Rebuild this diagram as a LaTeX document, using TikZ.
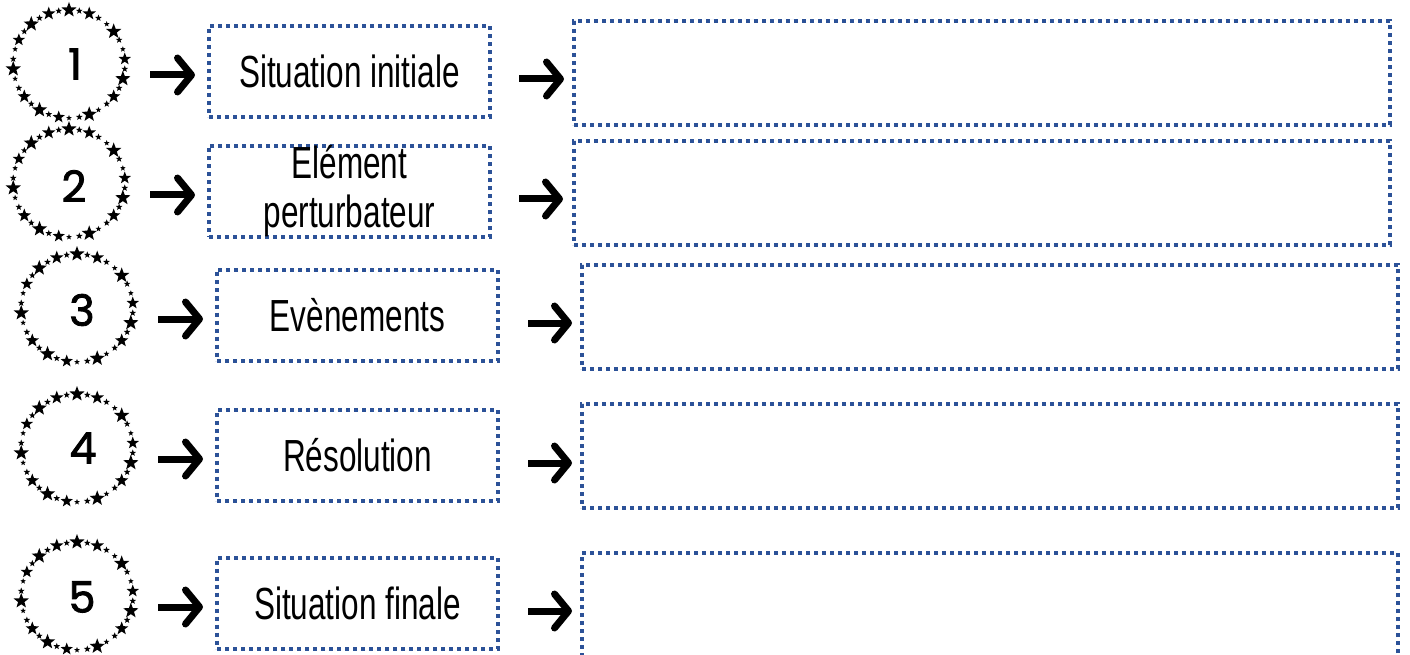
\documentclass[tikz,border=0pt]{standalone}
\usepackage{fontspec}
\setmainfont{Liberation Sans}
\newfontfamily\agency[FakeStretch=0.70]{Liberation Sans}
\newfontfamily\numfont[FakeBold=2]{Poppins}
\usetikzlibrary{shapes.geometric,arrows.meta}
\definecolor{dotblue}{RGB}{44,82,152}
\tikzset{
  dotbox/.style={rectangle, draw=dotblue, line width=4pt, dash pattern=on 4pt off 4pt,
    inner sep=0pt, align=center, font=\agency\fontsize{45}{49}\selectfont},
  smallbox/.style={dotbox, minimum width=281pt, minimum height=91pt},
  bigbox/.style={dotbox, minimum width=816pt, minimum height=104pt},
  ringc/.style={circle, minimum size=110pt, inner sep=0pt},
  numtxt/.style={inner sep=0pt, font=\numfont\fontsize{43}{43}\selectfont},
  starsh/.style={star, star points=5, star point ratio=2.4, fill=black, draw=none, inner sep=0pt},
  arr/.style={line width=7pt, -{Straight Barb[length=14pt,width=34pt,line width=7pt,round]}}
}
\begin{document}
\begin{tikzpicture}[x=1pt,y=-1pt]
\useasboundingbox (0,0) rectangle (1410,655);
\clip (0,0) rectangle (1410,655);
% rings with numbers
\foreach \r/\cx/\cy/\nx/\ny/\num in {1/69/64/75/64/1, 2/69/183/74/186/2, 3/77/308/82/310/3, 4/77/448/83/448/4, 5/77/596/82/597/5}{
  \node[ringc] (c\r) at (\cx,\cy) {};
  \node[numtxt] (n\r) at (\nx,\ny) {\num};
  \foreach \i in {0,...,33}{
    \pgfmathsetmacro\sz{{16,7,14,7,6,16,7,6,13,7}[mod(\i,10)]}
    \node[starsh, minimum size=\sz pt] (c\r s\i) at ([shift={({90-\i*360/34}:56pt and 54pt)}]c\r.center) {};
  }
}
% small boxes
\node[smallbox] (s1) at (349.5,71.5) {Situation initiale};
\node[smallbox] (s2) at (349.5,191.5) {Elément\\perturbateur};
\node[smallbox] (s3) at (357.5,315) {Evènements};
\node[smallbox] (s4) at (357.5,455) {Résolution};
\node[smallbox] (s5) at (357.5,603) {Situation finale};
% big boxes
\node[bigbox] (b1) at (982,73) {};
\node[bigbox] (b2) at (982,193) {};
\node[bigbox] (b3) at (990,317) {};
\node[bigbox] (b4) at (990,456) {};
\node[bigbox, minimum height=140pt] (b5) at (990,623) {};
% arrows
\coordinate (a1a) at (150,75);  \coordinate (a1b) at (195,75);
\coordinate (a2a) at (150,195); \coordinate (a2b) at (195,195);
\coordinate (a3a) at (158,319); \coordinate (a3b) at (203,319);
\coordinate (a4a) at (158,459); \coordinate (a4b) at (203,459);
\coordinate (a5a) at (158,607); \coordinate (a5b) at (203,607);
\coordinate (d1a) at (519,79);  \coordinate (d1b) at (564,79);
\coordinate (d2a) at (519,199); \coordinate (d2b) at (563,199);
\coordinate (d3a) at (528,323); \coordinate (d3b) at (572,323);
\coordinate (d4a) at (528,463); \coordinate (d4b) at (572,463);
\coordinate (d5a) at (528,611); \coordinate (d5b) at (572,611);
\foreach \k in {1,...,5}{
  \draw[arr] (a\k a) -- (a\k b);
  \draw[arr] (d\k a) -- (d\k b);
}
\end{tikzpicture}
\end{document}
